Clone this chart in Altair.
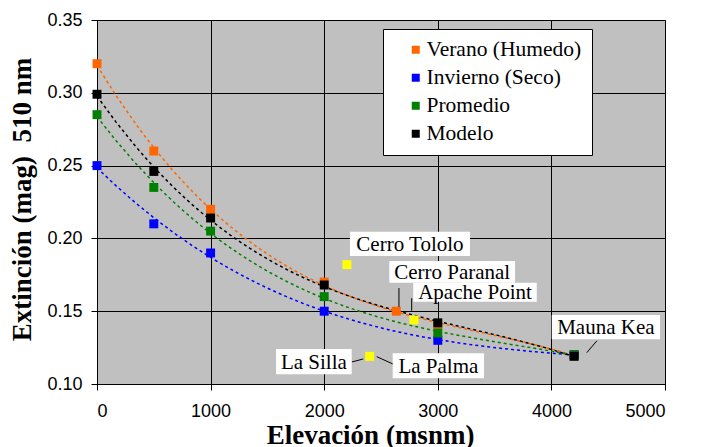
import altair as alt
import pandas as pd

# ---- data ----
elev = [0, 500, 1000, 2000, 3000, 4200]
verano = [0.320, 0.260, 0.220, 0.170, 0.140, 0.120]
invierno = [0.250, 0.210, 0.190, 0.150, 0.130, 0.120]
promedio = [0.285, 0.235, 0.205, 0.160, 0.135, 0.120]
modelo = [0.299, 0.246, 0.214, 0.168, 0.142, 0.119]

paranal_elev = 2635
paranal_ext = 0.150

series_names = ["Verano (Humedo)", "Invierno (Seco)", "Promedio", "Modelo"]
series_colors = ["#ff6600", "#0000ff", "#008000", "#000000"]

site_names = ["Cerro Tololo", "Apache Point", "La Silla / La Palma"]
site_elev = [2200, 2790, 2400]
site_ext = [0.182, 0.144, 0.119]

# annotation boxes (data units)
label_text = ["Cerro Tololo", "Cerro Paranal", "Apache Point", "La Silla", "La Palma", "Mauna Kea"]
label_x1 = [2227, 2573, 2784, 1576, 2603, 4003]
label_x2 = [3283, 3680, 3871, 2242, 3407, 4956]
label_y1 = [0.2046, 0.1845, 0.1696, 0.1240, 0.1211, 0.1474]
label_y2 = [0.1879, 0.1696, 0.1565, 0.1067, 0.1039, 0.1307]

# leader lines (data units)
lead_x1 = [2658, 2770, 2242, 2462, 4311]
lead_x2 = [2658, 2770, 2344, 2606, 4401]
lead_y1 = [0.1659, 0.1589, 0.1151, 0.1188, 0.1215]
lead_y2 = [0.1529, 0.1503, 0.1172, 0.1137, 0.1297]

SERIF = "Times New Roman, Liberation Serif, serif"

# ---- tables ----
rows = []
for i, (name, vals) in enumerate(zip(series_names, [verano, invierno, promedio, modelo])):
    for e, v in zip(elev, vals):
        rows.append({"serie": name, "idx": i, "elev": e, "ext": v})
    if name == "Verano (Humedo)":
        rows.append({"serie": name, "idx": i, "elev": paranal_elev, "ext": paranal_ext})
pts = pd.DataFrame(rows)

sites = pd.DataFrame({"site": site_names, "elev": site_elev, "ext": site_ext})
labels = pd.DataFrame({"t": label_text, "x1": label_x1, "x2": label_x2, "y1": label_y1, "y2": label_y2})
leads = pd.DataFrame({"x1": lead_x1, "x2": lead_x2, "y1": lead_y1, "y2": lead_y2})

xscale = alt.Scale(domain=[0, 5000], nice=False)
yscale = alt.Scale(domain=[0.10, 0.35], nice=False, zero=False)
cscale = alt.Scale(domain=series_names, range=series_colors)

xaxis = alt.Axis(values=[0, 1000, 2000, 3000, 4000, 5000], format="d", title="Elevación (msnm)",
                 titleX=273, titleY=59, titleBaseline="alphabetic", titleAlign="center",
                 labelPadding=12)
yaxis = alt.Axis(values=[0.10, 0.15, 0.20, 0.25, 0.30, 0.35], format=".2f",
                 title="Extinción (mag)\u00a0 510 nm", titleX=-67, titleY=179,
                 titleBaseline="alphabetic", titleAlign="center", titleAngle=270,
                 labelPadding=9)

X = alt.X("elev:Q", scale=xscale, axis=xaxis)
Y = alt.Y("ext:Q", scale=yscale, axis=yaxis)

line_layers = []
for name, col in zip(series_names, series_colors):
    line_layers.append(
        alt.Chart(pts).transform_filter(alt.datum.serie == name).transform_regression(
            "elev", "ext", method="poly", order=3, extent=[0, 4200]
        ).mark_line(strokeDash=[3, 3], strokeWidth=1.5, color=col).encode(x=X, y=Y)
    )

points = alt.Chart(pts).mark_square(size=80, opacity=1, strokeWidth=0).encode(
    x=X, y=Y,
    color=alt.Color("serie:N", scale=cscale, sort=series_names, legend=alt.Legend(
        orient="none", legendX=286, legendY=9, title=None,
        fillColor="white", strokeColor="black", padding=10,
        symbolType="square", symbolSize=64, symbolStrokeWidth=0, symbolOffset=12,
        labelFont=SERIF, labelFontSize=21.5, labelColor="black",
        labelOffset=0, rowPadding=5,
        labelExpr="datum.label + '\u00a0\u00a0\u00a0\u00a0\u00a0\u00a0'",
    )),
    order=alt.Order("idx:Q"),
)

site_pts = alt.Chart(sites).mark_square(size=80, opacity=1, color="#ffff00", strokeWidth=0).encode(
    x=X, y=Y
)

lead_rules = alt.Chart(leads).mark_rule(color="black", strokeWidth=1).encode(
    x=alt.X("x1:Q", scale=xscale), x2="x2:Q",
    y=alt.Y("y1:Q", scale=yscale), y2="y2:Q",
)

boxes = alt.Chart(labels).mark_rect(color="white").encode(
    x=alt.X("x1:Q", scale=xscale), x2="x2:Q",
    y=alt.Y("y1:Q", scale=yscale), y2="y2:Q",
)

texts = alt.Chart(labels).transform_calculate(
    xc="(datum.x1 + datum.x2) / 2", yc="(datum.y1 + datum.y2) / 2"
).mark_text(font=SERIF, fontSize=21, color="black", align="center", baseline="middle", dy=1).encode(
    x=alt.X("xc:Q", scale=xscale), y=alt.Y("yc:Q", scale=yscale), text="t:N"
)

chart = alt.layer(*line_layers, points, site_pts, lead_rules, boxes, texts).properties(
    width=568, height=364,
    autosize=alt.AutoSizeParams(type="none"),
    padding={"left": 97, "top": 20, "right": 36, "bottom": 63},
    background="white",
).configure_view(
    fill="#c0c0c0", stroke="black", strokeWidth=1
).configure_axis(
    grid=True, gridColor="black", gridWidth=1, gridOpacity=1,
    domainColor="black", domainWidth=1, tickColor="black", tickSize=6, tickWidth=1,
    labelFont="Liberation Sans", labelFontSize=18, labelColor="black",
    titleFont="Liberation Serif", titleFontSize=27, titleFontWeight="bold", titleColor="black",
)

chart.save("out.html", embed_options={"renderer": "svg", "actions": False})
